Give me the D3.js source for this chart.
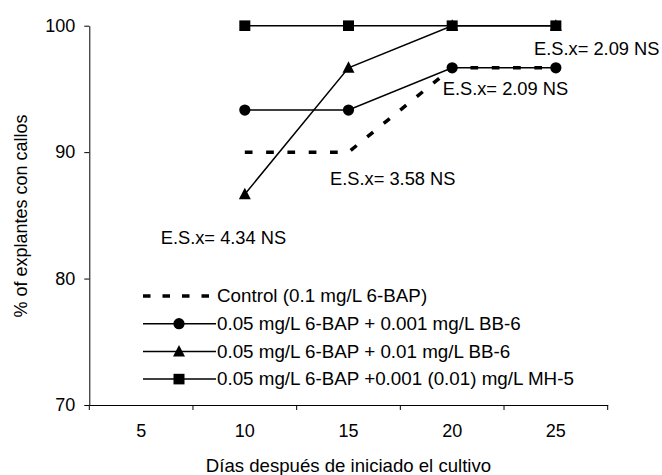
<!DOCTYPE html>
<html>
<head>
<meta charset="utf-8">
<script src="https://cdn.jsdelivr.net/npm/d3@7"></script>
<style>
  body { margin: 0; background: #fff; }
  text { font-family: "Liberation Sans", Arial, sans-serif; fill: #000; }
</style>
</head>
<body>
<div id="chart"></div>
<script>
// Data
const days = ["5", "10", "15", "20", "25"]
const seriesNames = [
  "Control (0.1 mg/L 6-BAP)",
  "0.05 mg/L 6-BAP + 0.001 mg/L BB-6",
  "0.05 mg/L 6-BAP + 0.01 mg/L BB-6",
  "0.05 mg/L 6-BAP +0.001 (0.01) mg/L MH-5",
]
const controlValues = [null, 90, 90, 96.67, 96.67]
const bb6LowValues = [null, 93.33, 93.33, 96.67, 96.67]
const bb6HighValues = [null, 86.67, 96.67, 100, 100]
const mh5Values = [null, 100, 100, 100, 100]
const yTicks = [70, 80, 90, 100]
const notes = ["E.S.x= 4.34 NS", "E.S.x= 3.58 NS", "E.S.x= 2.09 NS", "E.S.x= 2.09 NS"]

const allSeries = [
  { name: seriesNames[0], values: controlValues, marker: null, dashed: true },
  { name: seriesNames[1], values: bb6LowValues, marker: "circle", dashed: false },
  { name: seriesNames[2], values: bb6HighValues, marker: "triangle", dashed: false },
  { name: seriesNames[3], values: mh5Values, marker: "square", dashed: false },
]

// Dimensions
const dimensions = {
  width: 662,
  height: 475,
  margin: { top: 25.7, right: 54.3, bottom: 70, left: 89.3 },
}
dimensions.boundedWidth = dimensions.width - dimensions.margin.left - dimensions.margin.right
dimensions.boundedHeight = dimensions.height - dimensions.margin.top - dimensions.margin.bottom

const svg = d3.select("#chart").append("svg")
    .attr("width", dimensions.width)
    .attr("height", dimensions.height)

const bounds = svg.append("g")
    .attr("transform", `translate(${dimensions.margin.left},${dimensions.margin.top})`)

// Scales
const xScale = d3.scaleBand()
  .domain(days)
  .range([0, dimensions.boundedWidth])
  .padding(0)
const xCenter = d => xScale(d) + xScale.bandwidth() / 2

const yScale = d3.scaleLinear()
  .domain([70, 100])
  .range([dimensions.boundedHeight, 0])

// Axes
const xAxis = bounds.append("g")
    .attr("transform", `translate(0,${dimensions.boundedHeight})`)
    .call(d3.axisBottom(xScale).tickSize(0).tickPadding(19).tickSizeOuter(0))
xAxis.select(".domain").attr("stroke", "#000").attr("stroke-width", 1)
xAxis.selectAll("text").style("font-size", "18px")

// category boundary ticks
const boundaries = days.map(d => xScale(d)).concat([dimensions.boundedWidth])
xAxis.selectAll(".bound-tick")
  .data(boundaries)
  .enter().append("line")
    .attr("x1", d => d).attr("x2", d => d)
    .attr("y1", 0).attr("y2", 5)
    .attr("stroke", "#000")

const yAxis = bounds.append("g")
    .call(d3.axisLeft(yScale).tickValues(yTicks).tickSize(5).tickPadding(9).tickSizeOuter(0))
yAxis.select(".domain").attr("stroke", "#000")
yAxis.selectAll("text").style("font-size", "18px")

bounds.append("text")
    .attr("x", dimensions.boundedWidth / 2)
    .attr("y", dimensions.boundedHeight + 67)
    .attr("text-anchor", "middle")
    .style("font-size", "18.6px")
    .text("Días después de iniciado el cultivo")

svg.append("text")
    .attr("transform", "rotate(-90)")
    .attr("x", -216)
    .attr("y", 27)
    .attr("text-anchor", "middle")
    .style("font-size", "18px")
    .text("% of explantes con callos")

// Markers
function drawMarker(g, type, x, y) {
  if (type === "circle") {
    g.append("circle").attr("cx", x).attr("cy", y).attr("r", 5.6).attr("fill", "#000")
  } else if (type === "triangle") {
    g.append("path")
      .attr("d", `M${x},${y - 6.5}L${x + 6},${y + 5}L${x - 6},${y + 5}Z`)
      .attr("fill", "#000")
  } else if (type === "square") {
    g.append("rect").attr("x", x - 5.5).attr("y", y - 5.3).attr("width", 11).attr("height", 10.6).attr("fill", "#000")
  }
}

const lineGen = d3.line()
  .defined(d => d.v != null)
  .x(d => xCenter(d.day))
  .y(d => yScale(d.v))

const drawOrder = [1, 0, 2, 3]
drawOrder.forEach(i => {
  const s = allSeries[i]
  const pts = s.values.map((v, j) => ({ day: days[j], v }))
  const g = bounds.append("g")
  g.append("path")
      .datum(pts)
      .attr("d", lineGen)
      .attr("fill", "none")
      .attr("stroke", "#000")
      .attr("stroke-width", s.dashed ? 3.5 : 1.5)
      .attr("stroke-dasharray", s.dashed ? "7.7,13.6" : null)
  if (s.marker) {
    pts.filter(p => p.v != null).forEach(p => drawMarker(g, s.marker, xCenter(p.day), yScale(p.v)))
  }
})

// Annotations
const notePositions = [[160.7, 244.3], [330, 185], [442.7, 95], [534, 55]]
notes.forEach((t, i) => {
  svg.append("text")
      .attr("x", notePositions[i][0])
      .attr("y", notePositions[i][1])
      .style("font-size", "18.3px")
      .text(t)
})

// Legend
const legend = svg.append("g").attr("transform", "translate(143,296)")
allSeries.forEach((s, i) => {
  const row = legend.append("g").attr("transform", `translate(0,${i * 27.7})`)
  row.append("line")
      .attr("x1", 0).attr("x2", 73)
      .attr("y1", 0).attr("y2", 0)
      .attr("stroke", "#000")
      .attr("stroke-width", s.dashed ? 3.5 : 1.5)
      .attr("stroke-dasharray", s.dashed ? "7.5,12" : null)
  if (s.marker) drawMarker(row, s.marker, 36, 0)
  row.append("text")
      .attr("x", 74)
      .attr("y", 0)
      .attr("dy", "0.33em")
      .style("font-size", "18.8px")
      .text(s.name)
})
</script>
</body>
</html>
